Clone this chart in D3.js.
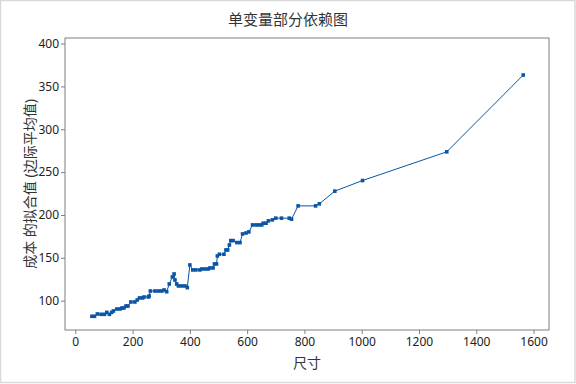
<!DOCTYPE html>
<html>
<head>
<meta charset="utf-8">
<script src="https://cdn.jsdelivr.net/npm/d3@7"></script>
<style>
  body { margin: 0; background: #fff; }
  text { font-family: "Noto Sans", "Noto Sans CJK SC", sans-serif; }
</style>
</head>
<body>
<svg id="chart"></svg>
<script>
var width = 576,
  height = 384;

var margin = { top: 38, right: 27, bottom: 54, left: 65 };

var title = '单变量部分依赖图';
var xLabel = '尺寸';
var yLabel = '成本 的拟合值 (边际平均值)';

// 尺寸 values and fitted cost
var sizes = [
  58, 67, 77, 90, 102, 110, 119, 127, 133, 145,
  156, 163, 170, 177, 184, 194, 208, 216, 224, 235,
  240, 255, 258, 262, 278, 290, 302, 310, 319, 328,
  339, 345, 348, 354, 360, 372, 383, 391, 400, 410,
  421, 435, 442, 453, 464, 470, 481, 486, 493, 496,
  503, 519, 526, 532, 538, 543, 551, 564, 575, 584,
  596, 606, 619, 631, 641, 651, 656, 666, 674, 688,
  700, 720, 747, 755, 778, 839, 852, 906, 1003, 1297,
  1564
];
var fitted = [
  81.8, 81.8, 84.5, 84.1, 84.1, 86.4, 84.1, 86.4, 88.0, 90.3,
  90.3, 91.5, 91.5, 93.8, 93.8, 98.5, 98.5, 100.8, 103.2, 103.2,
  104.3, 104.3, 105.5, 111.3, 111.3, 111.3, 111.3, 112.5, 110.5, 119.5,
  127.7, 131.2, 124.2, 119.5, 117.2, 117.2, 117.2, 115.2, 141.7, 135.9,
  135.9, 135.9, 137.0, 137.0, 137.0, 138.2, 138.2, 142.9, 142.9, 152.2,
  154.2, 154.2, 159.2, 159.2, 165.0, 170.1, 170.1, 167.8, 167.8, 177.9,
  179.0, 180.3, 188.4, 188.4, 188.4, 188.4, 190.4, 190.4, 193.1, 194.3,
  196.3, 196.3, 196.3, 195.1, 210.6, 210.6, 213.0, 227.8, 240.2, 273.7,
  363.3
];

var xTicks = [0, 200, 400, 600, 800, 1000, 1200, 1400, 1600];
var yTicks = [100, 150, 200, 250, 300, 350, 400];

var points = sizes.map(function(d, i) { return { x: d, y: fitted[i] }; });

var svg = d3.select('#chart')
  .attr('width', width)
  .attr('height', height);

// outer light frame
svg.append('rect')
  .attr('x', 0.5)
  .attr('y', 0.5)
  .attr('width', width - 1.5)
  .attr('height', height - 2)
  .attr('fill', '#fff')
  .attr('stroke', '#d9d9d9')
  .attr('stroke-width', 1.5);

var x = d3.scaleLinear()
  .domain([-36, 1654])
  .range([margin.left, width - margin.right]);

var y = d3.scaleLinear()
  .domain([65.8, 406.5])
  .range([height - margin.bottom, margin.top]);

var xAxis = svg.append('g')
  .attr('transform', 'translate(0,' + (height - margin.bottom) + ')')
  .call(d3.axisBottom(x).tickValues(xTicks).tickFormat(d3.format('d'))
    .tickSize(4).tickPadding(3));

var yAxis = svg.append('g')
  .attr('transform', 'translate(' + margin.left + ',0)')
  .call(d3.axisLeft(y).tickValues(yTicks).tickFormat(d3.format('d'))
    .tickSize(4).tickPadding(2));

[xAxis, yAxis].forEach(function(a) {
  a.select('.domain').remove();
  a.selectAll('line').attr('stroke', '#7f7f7f');
  a.selectAll('text')
    .attr('fill', '#222')
    .style('font-size', '12px');
});

// plot frame
svg.append('rect')
  .attr('x', margin.left)
  .attr('y', margin.top)
  .attr('width', width - margin.left - margin.right)
  .attr('height', height - margin.top - margin.bottom)
  .attr('fill', 'none')
  .attr('stroke', '#7f7f7f')
  .attr('stroke-width', 1);

var line = d3.line()
  .x(function(d) { return x(d.x); })
  .y(function(d) { return y(d.y); });

svg.append('path')
  .datum(points)
  .attr('d', line)
  .attr('fill', 'none')
  .attr('stroke', '#0a55a5')
  .attr('stroke-width', 1);

svg.append('g')
  .selectAll('rect')
  .data(points)
  .enter().append('rect')
  .attr('x', function(d) { return x(d.x) - 1.8; })
  .attr('y', function(d) { return y(d.y) - 1.8; })
  .attr('width', 3.6)
  .attr('height', 3.6)
  .attr('fill', '#0a55a5');

svg.append('text')
  .attr('x', width / 2)
  .attr('y', 25)
  .attr('text-anchor', 'middle')
  .attr('fill', '#333')
  .style('font-size', '15px')
  .text(title);

svg.append('text')
  .attr('x', (margin.left + width - margin.right) / 2)
  .attr('y', 368)
  .attr('text-anchor', 'middle')
  .attr('fill', '#333')
  .style('font-size', '14px')
  .text(xLabel);

svg.append('text')
  .attr('transform', 'translate(35,' + (margin.top + (height - margin.top - margin.bottom) / 2) + ')rotate(-90)')
  .attr('text-anchor', 'middle')
  .attr('fill', '#333')
  .style('font-size', '14px')
  .text(yLabel);
</script>
</body>
</html>
